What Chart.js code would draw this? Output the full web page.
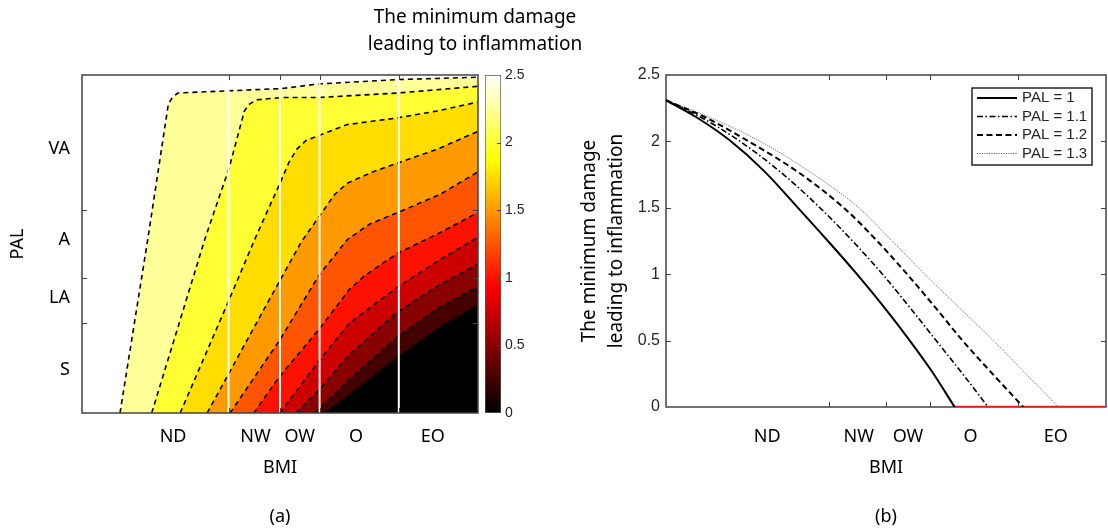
<!DOCTYPE html>
<html>
<head>
<meta charset="utf-8">
<script src="https://cdn.jsdelivr.net/npm/chart.js@4.4.1/dist/chart.umd.min.js"></script>
<style>
  body { margin: 0; background: #fff; }
  #wrap { position: relative; width: 1108px; height: 531px; }
  canvas { position: absolute; top: 0; }
</style>
</head>
<body>
<div id="wrap">
  <canvas id="contourChart" width="482" height="531" style="left:0"></canvas>
  <canvas id="colorbarChart" width="260" height="531" style="left:345px"></canvas>
  <canvas id="lineChart" width="548" height="531" style="left:560px"></canvas>
</div>
<script>
// ---- categories ----
const bmiBounds = [18.5, 25, 30, 40];
const bmiNames = ['ND', 'NW', 'OW', 'O', 'EO'];
const bmiNamePos = [11.5, 21.9, 27.5, 34.6, 44.3];
const palBounds = [1.4, 1.6, 1.9];
const palNames = ['S', 'LA', 'A', 'VA'];
const palNamePos = [1.19, 1.51, 1.77, 2.17];

// ---- (a) contour lines, [BMI, PAL] ----
const levels = [2.5, 2.25, 2, 1.75, 1.5, 1.25, 1, 0.75, 0.5, 0.25];
const line250 = [[4.8,1],[8.3,1.77],[10.9,2.37],[11.4,2.40],[12.1,2.42],[18.6,2.43],[25.3,2.44],[29.8,2.46],[39.9,2.48],[50,2.49]];
const line225 = [[8.8,1],[15.5,1.77],[18.6,2.09],[20.5,2.34],[21.1,2.37],[22.1,2.39],[25.3,2.40],[29.8,2.40],[39.9,2.42],[50,2.45]];
const line200 = [[12.4,1],[18.3,1.48],[21.8,1.77],[25.0,2.02],[26.1,2.11],[27.1,2.17],[28.3,2.21],[29.8,2.23],[33.5,2.28],[39.9,2.31],[44.8,2.34],[50,2.38]];
const line175 = [[15.8,1],[18.3,1.16],[23.6,1.50],[27.7,1.76],[30.1,1.88],[31.9,1.97],[33.5,2.02],[36.7,2.07],[39.9,2.11],[44.8,2.17],[50,2.25]];
const line150 = [[18.7,1],[24.9,1.32],[29.9,1.61],[33.5,1.77],[36.4,1.84],[39.9,1.89],[45.2,1.97],[50,2.07]];
const line125 = [[21.7,1],[24.9,1.16],[29.9,1.37],[33.8,1.55],[35.7,1.61],[39.9,1.71],[45.2,1.80],[50,1.89]];
const line100 = [[25.0,1],[29.9,1.23],[33.8,1.40],[39.9,1.56],[45.2,1.68],[50,1.78]];
const line075 = [[27.0,1],[29.9,1.10],[33.8,1.26],[39.9,1.45],[45.2,1.57],[50,1.66]];
const line050 = [[29.4,1],[33.8,1.15],[39.9,1.34],[45.2,1.47],[50,1.56]];
const line025 = [[30.6,1],[33.8,1.08],[39.9,1.25],[45.2,1.38],[50,1.48]];
const contourLines = [line250, line225, line200, line175, line150, line125, line100, line075, line050, line025];

// ---- colorbar ----
const cbarRange = [0, 2.5];
const cbarTitle = ['The minimum damage', 'leading to inflammation'];

// ---- (b) curves, [BMI, damage] ----
const palLabels = ['PAL = 1', 'PAL = 1.1', 'PAL = 1.2', 'PAL = 1.3'];
const damagePal10 = [[0,2.31],[3.5,2.18],[7.2,2.01],[11.1,1.78],[15.0,1.5],[18.4,1.25],[21.7,1.0],[24.8,0.75],[27.7,0.5],[30.3,0.26],[32.8,0]];
const damagePal11 = [[0,2.31],[4.0,2.18],[8.2,2.01],[13.0,1.77],[17.5,1.5],[21.2,1.25],[24.6,1.0],[27.7,0.75],[30.7,0.5],[33.7,0.25],[36.6,0]];
const damagePal12 = [[0,2.31],[4.5,2.18],[9.4,2.0],[15.2,1.76],[20.2,1.5],[24.0,1.25],[27.4,1.0],[30.6,0.75],[33.7,0.5],[37.1,0.25],[40.6,0]];
const damagePal13 = [[0,2.31],[5.0,2.18],[10.7,2.0],[16.6,1.76],[21.9,1.5],[25.7,1.25],[29.4,1.0],[33.3,0.75],[37.2,0.5],[40.9,0.25],[44.6,0]];
const noInflammation = [[32.8,0],[50,0]];

Chart.defaults.font.family = "'Noto Sans', sans-serif";
Chart.defaults.font.size = 18;
Chart.defaults.color = '#000';

const xy = pts => pts.map(p => ({ x: p[0], y: p[1] }));
const plainNum = v => String(v);

// matlab "hot" colormap
function hot(t) {
  const c = v => Math.round(255 * Math.min(1, Math.max(0, v)));
  return 'rgb(' + c(t / 0.375) + ',' + c((t - 0.375) / 0.375) + ',' + c((t - 0.75) / 0.25) + ')';
}

function hotGradient(context) {
  const { ctx, chartArea } = context.chart;
  if (!chartArea) return '#000';
  const g = ctx.createLinearGradient(0, chartArea.bottom, 0, chartArea.top);
  [0, 0.375, 0.75, 1].forEach(t => g.addColorStop(t, hot(t)));
  return g;
}

// box round the plot + inward tick marks at the category borders
function drawFrame(chart, o) {
  const { ctx, chartArea: a, scales: { x, y } } = chart;
  ctx.save();
  ctx.strokeStyle = '#444';
  ctx.lineWidth = 1;
  ctx.beginPath();
  o.xTicks.forEach(v => {
    const px = Math.round(x.getPixelForValue(v)) + 0.5;
    ctx.moveTo(px, a.bottom); ctx.lineTo(px, a.bottom - o.len);
    ctx.moveTo(px, a.top); ctx.lineTo(px, a.top + o.len);
  });
  o.yTicks.forEach(v => {
    const py = Math.round(y.getPixelForValue(v)) + 0.5;
    ctx.moveTo(a.left, py); ctx.lineTo(a.left + o.len, py);
    ctx.moveTo(a.right, py); ctx.lineTo(a.right - o.len, py);
  });
  ctx.stroke();
  ctx.lineWidth = 1.5;
  ctx.strokeRect(a.left, a.top, a.width, a.height);
  ctx.restore();
}
const axisFrame = {
  id: 'axisFrame',
  beforeDatasetsDraw(chart, args, o) { if (o.under) drawFrame(chart, o); },
  afterDatasetsDraw(chart, args, o) { if (!o.under) drawFrame(chart, o); }
};

const cbarTicks = {
  id: 'cbarTicks',
  afterDatasetsDraw(chart) {
    const { ctx, chartArea: a, scales: { y } } = chart;
    ctx.save();
    ctx.strokeStyle = '#444';
    ctx.lineWidth = 1;
    ctx.beginPath();
    y.ticks.forEach(t => {
      if (t.value <= cbarRange[0] || t.value >= cbarRange[1]) return;
      const py = Math.round(y.getPixelForValue(t.value)) + 0.5;
      ctx.moveTo(a.right, py); ctx.lineTo(a.right - 4, py);
    });
    ctx.stroke();
    ctx.restore();
  }
};

// legend inside the axes, matlab style
const boxLegend = {
  id: 'boxLegend',
  afterDatasetsDraw(chart) {
    const { ctx, chartArea: a } = chart;
    const w = 120, h = 77;
    const left = a.right - 14 - w, top = a.top + 13;
    ctx.save();
    ctx.fillStyle = '#fff';
    ctx.fillRect(left, top, w, h);
    ctx.strokeStyle = '#262626';
    ctx.lineWidth = 1.5;
    ctx.strokeRect(left, top, w, h);
    ctx.font = "15px 'Liberation Sans', Arial, sans-serif";
    ctx.textBaseline = 'middle';
    chart.data.datasets.filter(d => d.label).forEach((d, i) => {
      const yy = top + 10 + i * 18.5;
      ctx.setLineDash(d.borderDash || []);
      ctx.strokeStyle = d.borderColor;
      ctx.lineWidth = d.borderWidth;
      ctx.beginPath(); ctx.moveTo(left + 5, yy); ctx.lineTo(left + 45, yy); ctx.stroke();
      ctx.setLineDash([]);
      ctx.fillStyle = '#262626';
      ctx.fillText(d.label, left + 50, yy);
    });
    ctx.restore();
  }
};

// ---- (a) contour plot ----
const contourSets = [];
contourLines.forEach((pts, i) => {
  contourSets.push({
    data: xy(pts.concat([[50, 1]])),
    fill: 'shape',
    backgroundColor: hot((levels[i] - 0.25) / 2.5),
    borderColor: 'transparent',
    borderWidth: 0,
    order: 20 - i
  });
  contourSets.push({
    data: xy(pts),
    fill: false,
    borderColor: '#000',
    borderWidth: 1.6,
    borderDash: [5, 4],
    order: 1
  });
});
bmiBounds.forEach(b => {
  contourSets.push({ data: xy([[b, 1], [b, 2.5]]), fill: false, borderColor: '#fff', borderWidth: 2, order: 0 });
});

new Chart(document.getElementById('contourChart'), {
  type: 'line',
  data: { datasets: contourSets },
  options: {
    responsive: false,
    animation: false,
    events: [],
    layout: { padding: { left: 0, right: 4, top: 75, bottom: 0 } },
    elements: { point: { radius: 0 }, line: { tension: 0 } },
    scales: {
      x: {
        type: 'linear', min: 0, max: 50,
        afterBuildTicks: s => { s.ticks = bmiNamePos.map(v => ({ value: v })); },
        afterFit: s => { s.height = 93.4; },
        grid: { display: false, drawTicks: false },
        border: { display: false },
        ticks: { autoSkip: false, maxRotation: 0, padding: 13, callback: (v, i) => bmiNames[i] },
        title: { display: true, text: 'BMI', padding: { top: 0, bottom: 27.6 } }
      },
      y: {
        type: 'linear', min: 1, max: 2.5,
        afterBuildTicks: s => { s.ticks = palNamePos.map(v => ({ value: v })); },
        afterFit: s => { s.width = 82; },
        grid: { display: false, drawTicks: false },
        border: { display: false },
        ticks: { autoSkip: false, padding: 12, callback: (v, i) => palNames[i] },
        title: { display: true, text: 'PAL', padding: { top: 7.2, bottom: 0 } }
      }
    },
    plugins: {
      legend: { display: false },
      tooltip: { enabled: false },
      title: { display: true, text: '(a)', position: 'bottom', fullSize: false, font: { size: 18, weight: 'normal' }, color: '#000', padding: { top: 0, bottom: 3 } },
      axisFrame: { xTicks: bmiBounds, yTicks: palBounds, len: 5, under: false }
    }
  },
  plugins: [axisFrame]
});

// ---- colorbar ----
new Chart(document.getElementById('colorbarChart'), {
  type: 'bar',
  data: {
    labels: [''],
    datasets: [{
      data: [cbarRange],
      backgroundColor: hotGradient,
      borderColor: '#555',
      borderWidth: 1,
      borderSkipped: false,
      barPercentage: 1,
      categoryPercentage: 1
    }]
  },
  options: {
    responsive: false,
    animation: false,
    events: [],
    layout: { padding: { left: 0, right: 0, top: 0, bottom: 118 } },
    scales: {
      x: { display: false },
      pad: {
        type: 'linear', position: 'left',
        afterFit: s => { s.width = 140; },
        ticks: { display: false }, grid: { display: false }, border: { display: false }
      },
      y: {
        type: 'linear', position: 'right', min: cbarRange[0], max: cbarRange[1],
        afterFit: s => { s.width = 104; },
        grid: { display: false, drawTicks: false },
        border: { display: false },
        ticks: { stepSize: 0.5, padding: 4, color: '#262626', callback: plainNum, font: { family: "'Liberation Sans', Arial, sans-serif", size: 14 } }
      }
    },
    plugins: {
      legend: { display: false },
      tooltip: { enabled: false },
      title: { display: true, text: cbarTitle, color: '#000', font: { size: 19, weight: 'normal', lineHeight: '27px' }, padding: { top: 4.5, bottom: 16.5 } }
    }
  },
  plugins: [cbarTicks]
});

// ---- (b) damage vs BMI ----
const curveStyles = [
  { borderColor: '#000', borderWidth: 2, borderDash: [] },
  { borderColor: '#000', borderWidth: 1.6, borderDash: [6, 2.5, 1.5, 2.5] },
  { borderColor: '#000', borderWidth: 2, borderDash: [6, 3.5] },
  { borderColor: '#666', borderWidth: 1, borderDash: [1.2, 1.2] }
];
const curveData = [damagePal10, damagePal11, damagePal12, damagePal13];
const lineSets = curveData.map((pts, i) => Object.assign({
  label: palLabels[i],
  data: xy(pts),
  fill: false,
  cubicInterpolationMode: 'monotone'
}, curveStyles[i]));
lineSets.push({ data: xy(noInflammation), fill: false, borderColor: '#e2231a', borderWidth: 2.5 });

new Chart(document.getElementById('lineChart'), {
  type: 'line',
  data: { datasets: lineSets },
  options: {
    responsive: false,
    animation: false,
    events: [],
    layout: { padding: { left: 0, right: 2, top: 75, bottom: 0 } },
    elements: { point: { radius: 0 } },
    scales: {
      x: {
        type: 'linear', min: 0, max: 50,
        afterBuildTicks: s => { s.ticks = bmiNamePos.map(v => ({ value: v })); },
        afterFit: s => { s.height = 99.4; },
        grid: { display: false, drawTicks: false },
        border: { display: false },
        ticks: { autoSkip: false, maxRotation: 0, padding: 19.2, callback: (v, i) => bmiNames[i] },
        title: { display: true, text: 'BMI', padding: { top: 0, bottom: 27.6 } }
      },
      y: {
        type: 'linear', min: 0, max: 2.5,
        afterFit: s => { s.width = 106; },
        grid: { display: false, drawTicks: false },
        border: { display: false },
        ticks: { stepSize: 0.5, padding: 6, color: '#262626', callback: plainNum, font: { family: "'Liberation Sans', Arial, sans-serif", size: 16 } },
        title: { display: true, text: cbarTitle, font: { size: 19, lineHeight: '27px' }, padding: { top: 16.5, bottom: 0 } }
      }
    },
    plugins: {
      legend: { display: false },
      tooltip: { enabled: false },
      title: { display: true, text: '(b)', position: 'bottom', fullSize: false, font: { size: 18, weight: 'normal' }, color: '#000', padding: { top: 0, bottom: 3 } },
      axisFrame: { xTicks: bmiBounds, yTicks: [0.5, 1, 1.5, 2], len: 5, under: true }
    }
  },
  plugins: [axisFrame, boxLegend]
});
</script>
</body>
</html>
